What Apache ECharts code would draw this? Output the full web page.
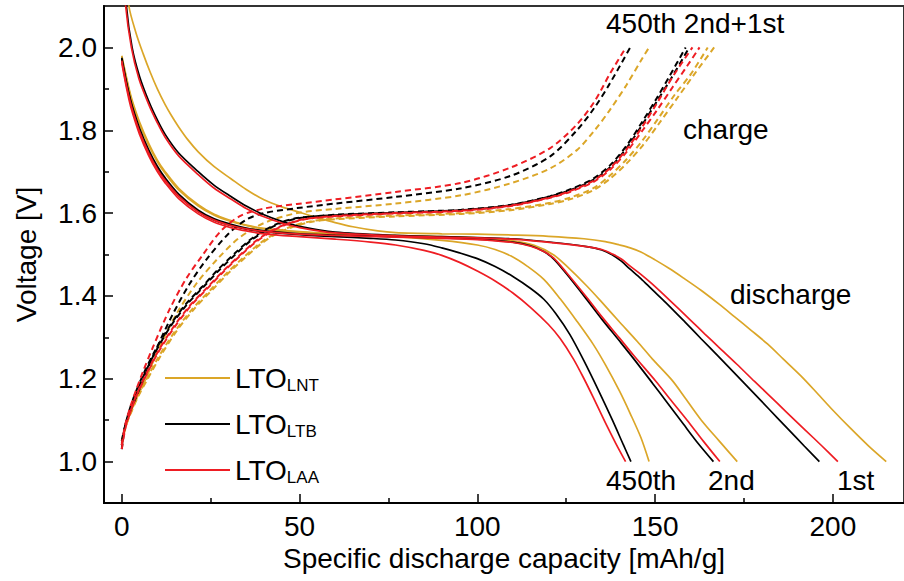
<!DOCTYPE html>
<html>
<head>
<meta charset="utf-8">
<script src="https://cdn.jsdelivr.net/npm/echarts@6/dist/echarts.min.js"></script>
<style>html,body{margin:0;padding:0;background:#fff;}#c{width:904px;height:581px;}</style>
</head>
<body>
<div id="c"></div>
<script>
// ---------- tick labels ----------
const xTickValues = [0, 50, 100, 150, 200];
const xMinorValues = [25, 75, 125, 175];
const yTickValues = [1.0, 1.2, 1.4, 1.6, 1.8, 2.0];
const yMinorValues = [1.1, 1.3, 1.5, 1.7, 1.9];
const legendNames = ['LNT', 'LTB', 'LAA'];

// ---------- discharge (solid) [capacity mAh/g, voltage V] ----------
const lntDis1 = [[1.2,2.2],[2,2.1],[4,2.035],[6,1.985],[8,1.94],[10,1.9],[12.2,1.862],[14,1.835],[16,1.808],[18.5,1.778],[21.5,1.748],[26,1.712],[30.7,1.683],[35,1.657],[40,1.632],[45,1.615],[50,1.602],[55,1.589],[60,1.577],[65,1.567],[72,1.557],[77,1.553],[90,1.55],[100,1.549],[110,1.547],[120,1.544],[130,1.538],[136,1.531],[140,1.523],[143,1.516],[146,1.506],[150,1.487],[154,1.466],[158,1.443],[163,1.413],[168,1.38],[172.3,1.35],[177,1.317],[181.6,1.284],[186,1.248],[191,1.207],[195.6,1.165],[200,1.124],[205,1.08],[210,1.038],[215,1.0]];
const ltbDis1 = [[0.8,2.2],[1.3,2.1],[2.9,2.0],[5,1.93],[7.6,1.87],[10,1.825],[12.2,1.79],[16,1.745],[21.5,1.7],[26,1.667],[30.7,1.64],[35,1.617],[40,1.596],[45,1.58],[50,1.568],[60,1.554],[77,1.546],[90,1.543],[100,1.541],[110,1.538],[121.5,1.529],[130.7,1.519],[135,1.511],[138,1.499],[140.5,1.484],[142.8,1.466],[146,1.442],[149.2,1.415],[153,1.384],[158.5,1.336],[163,1.296],[167.8,1.254],[174.3,1.196],[177,1.172],[182,1.127],[187,1.082],[192,1.037],[196.2,1.0]];
const laaDis1 = [[0.6,2.2],[1.1,2.1],[2.7,2.0],[4.8,1.925],[7.6,1.862],[10,1.818],[12.2,1.783],[16,1.738],[21.5,1.693],[26,1.66],[30.7,1.634],[35,1.611],[40,1.591],[45,1.576],[50,1.565],[60,1.552],[77,1.545],[90,1.542],[100,1.54],[110,1.537],[121.5,1.528],[130.7,1.519],[135,1.512],[138,1.501],[140.5,1.489],[142.8,1.473],[146,1.452],[149,1.43],[153.9,1.391],[160,1.341],[164,1.308],[167.8,1.277],[173,1.235],[177.9,1.194],[181.7,1.163],[187,1.119],[192,1.078],[197,1.037],[201.4,1.0]];
const lntDis2 = [[0,1.98],[1,1.94],[2,1.902],[3,1.87],[5,1.82],[7.6,1.768],[10,1.728],[12.2,1.7],[16,1.66],[21.5,1.62],[26,1.597],[30.7,1.582],[35,1.571],[40,1.563],[50,1.555],[60,1.55],[77,1.546],[90,1.543],[100,1.54],[110,1.533],[116,1.522],[121.5,1.499],[125,1.473],[130.8,1.424],[135,1.385],[140,1.337],[145,1.29],[149.2,1.248],[154.8,1.196],[158.5,1.153],[163,1.1],[168,1.05],[173.1,1.0]];
const ltbDis2 = [[0,1.975],[1,1.93],[2,1.89],[3,1.857],[5,1.805],[7.6,1.752],[10,1.713],[12.2,1.685],[16,1.646],[21.5,1.607],[26,1.586],[30.7,1.573],[35,1.564],[40,1.557],[50,1.55],[60,1.547],[77,1.543],[90,1.54],[100,1.537],[110,1.53],[115,1.521],[118.7,1.507],[121.5,1.489],[125,1.454],[130.8,1.391],[135,1.344],[140,1.291],[144,1.248],[149.2,1.19],[153,1.147],[158,1.09],[162,1.045],[166.4,1.0]];
const laaDis2 = [[0,1.968],[1,1.922],[2,1.882],[3,1.849],[5,1.797],[7.6,1.745],[10,1.706],[12.2,1.679],[16,1.641],[21.5,1.603],[26,1.583],[30.7,1.57],[35,1.562],[40,1.556],[50,1.549],[60,1.546],[77,1.542],[90,1.539],[100,1.536],[110,1.529],[115,1.52],[118.7,1.507],[121.5,1.491],[125,1.457],[130.8,1.396],[135,1.35],[140,1.298],[144,1.256],[150.2,1.194],[154,1.153],[159,1.1],[163.5,1.05],[168.2,1.0]];
const lntDis450 = [[0,1.978],[1,1.936],[2,1.898],[3,1.866],[5,1.815],[7.6,1.763],[10,1.724],[12.2,1.696],[16,1.656],[21.5,1.617],[26,1.595],[30.7,1.58],[35,1.57],[40,1.562],[50,1.554],[60,1.549],[70,1.546],[77,1.543],[90,1.534],[100,1.523],[105,1.512],[110,1.494],[114,1.472],[118.7,1.44],[123.3,1.393],[128,1.339],[132.6,1.283],[136,1.234],[140,1.17],[143,1.116],[146,1.058],[148.3,1.0]];
const ltbDis450 = [[0,1.972],[1,1.926],[2,1.886],[3,1.853],[5,1.8],[7.6,1.748],[10,1.709],[12.2,1.681],[16,1.642],[21.5,1.604],[26,1.583],[30.7,1.57],[35,1.561],[40,1.555],[50,1.548],[60,1.543],[70,1.539],[77,1.535],[85,1.526],[90,1.516],[95,1.504],[100,1.49],[105,1.471],[110,1.447],[115,1.418],[118.7,1.392],[122,1.358],[126,1.307],[130,1.243],[134.4,1.166],[138,1.1],[141,1.042],[143.2,1.0]];
const laaDis450 = [[0,1.962],[1,1.916],[2,1.875],[3,1.842],[5,1.79],[7.6,1.738],[10,1.7],[12.2,1.673],[16,1.635],[21.5,1.598],[26,1.578],[30.7,1.565],[35,1.557],[40,1.55],[50,1.543],[60,1.537],[70,1.53],[77,1.523],[85,1.51],[90,1.498],[95,1.481],[100,1.46],[105,1.436],[110,1.407],[115,1.372],[120,1.331],[123.3,1.297],[127,1.248],[130,1.2],[132.6,1.155],[136,1.094],[139,1.043],[141.7,1.0]];

// ---------- charge (dashed) ----------
const lntChg1 = [[0,1.045],[1.1,1.085],[2.8,1.122],[4.6,1.157],[7.3,1.2],[10.7,1.252],[15.4,1.315],[20.5,1.37],[25.5,1.415],[30,1.455],[35,1.495],[39.5,1.528],[43.5,1.55],[48,1.566],[53.5,1.579],[60,1.585],[77,1.592],[95.5,1.598],[109.4,1.607],[120.5,1.622],[126,1.633],[132.6,1.655],[137.2,1.682],[142,1.72],[146.5,1.763],[151,1.815],[156,1.875],[161,1.935],[166.6,2.0]];
const lntChg2 = [[0,1.04],[1,1.082],[2.6,1.12],[4.3,1.155],[7,1.2],[10.3,1.252],[15,1.315],[20,1.37],[25,1.415],[29.5,1.455],[34.5,1.495],[39,1.528],[43,1.55],[47.5,1.567],[53,1.58],[60,1.587],[77,1.594],[95.5,1.6],[109.4,1.61],[120.5,1.625],[126,1.637],[132.6,1.66],[137.2,1.69],[142,1.73],[146.5,1.776],[151,1.83],[155.7,1.888],[160,1.935],[164.8,2.0]];
const ltbChg1 = [[0,1.04],[0.9,1.085],[2.2,1.123],[3.8,1.16],[6.2,1.208],[9.3,1.262],[13.6,1.325],[18.4,1.38],[23,1.422],[27.5,1.463],[32.3,1.503],[36.5,1.535],[40.5,1.558],[44.5,1.575],[50,1.588],[60,1.596],[77,1.602],[95.5,1.608],[109.4,1.62],[120.5,1.641],[126,1.657],[132.6,1.683],[137.5,1.717],[142,1.763],[146.5,1.822],[150.5,1.878],[154,1.93],[158.6,2.0]];
const ltbChg2 = [[0,1.03],[0.8,1.08],[2,1.12],[3.5,1.158],[5.9,1.208],[9,1.262],[13.3,1.325],[18,1.38],[22.6,1.422],[27,1.463],[31.8,1.503],[36,1.535],[40,1.558],[44,1.575],[49.3,1.588],[60,1.595],[77,1.601],[95.5,1.607],[109.4,1.619],[120.5,1.64],[126,1.655],[132.6,1.68],[137.5,1.712],[142,1.757],[146.5,1.815],[150.5,1.87],[154.5,1.925],[159.6,2.0]];
const laaChg1 = [[0,1.04],[1,1.085],[2.5,1.122],[4.2,1.16],[6.8,1.207],[10,1.26],[14.6,1.322],[19.5,1.377],[24.3,1.42],[28.8,1.46],[33.7,1.5],[38,1.532],[42,1.555],[46.2,1.572],[51.5,1.585],[60,1.593],[77,1.6],[95.5,1.606],[109.4,1.618],[120.5,1.638],[126,1.653],[132.6,1.678],[137.5,1.71],[142,1.754],[146.5,1.81],[150.5,1.865],[155,1.93],[160.5,2.0]];
const laaChg2 = [[0,1.03],[1,1.08],[2.4,1.12],[4,1.158],[6.5,1.205],[9.8,1.26],[14.3,1.322],[19.2,1.377],[24,1.42],[28.5,1.46],[33.4,1.5],[37.6,1.532],[41.6,1.555],[45.8,1.572],[51,1.585],[60,1.592],[77,1.599],[95.5,1.605],[109.4,1.617],[120.5,1.637],[126,1.651],[132.6,1.675],[137.5,1.706],[142,1.748],[146.5,1.8],[150.5,1.848],[155,1.905],[159,1.955],[162.5,2.0]];
const lntChg450 = [[0,1.05],[1.2,1.09],[3,1.13],[5,1.168],[7.5,1.215],[10.5,1.275],[15.5,1.358],[21,1.43],[27,1.49],[33,1.54],[40,1.576],[49.3,1.6],[60,1.61],[77,1.623],[95.5,1.643],[109.4,1.672],[120.5,1.708],[128,1.752],[133,1.8],[137.2,1.848],[142,1.91],[146.5,1.975],[148.3,2.0]];
const ltbChg450 = [[0,1.05],[1,1.088],[2.5,1.125],[4.5,1.165],[6.5,1.208],[9.5,1.268],[14,1.35],[19,1.428],[24,1.49],[30,1.55],[35,1.584],[40,1.6],[49.3,1.612],[60,1.623],[77,1.639],[95.5,1.66],[109.4,1.69],[120.5,1.737],[128,1.8],[133,1.855],[137.2,1.912],[143,2.0]];
const laaChg450 = [[0,1.04],[1,1.09],[2.5,1.135],[4,1.172],[6,1.218],[8.7,1.275],[13.3,1.365],[18,1.44],[22.6,1.497],[28,1.558],[33.5,1.594],[40,1.611],[49.3,1.622],[60,1.633],[77,1.651],[95.5,1.673],[109.4,1.71],[120.5,1.757],[128,1.814],[133,1.87],[137.2,1.935],[141.8,2.0]];

// ---------- styling ----------
const GOLD = '#DBA628', BLACK = '#000000', RED = '#EE1D23';
const FONT = "'Liberation Sans', Arial, sans-serif";

const seriesDefs = [
  { name: 'LNT', data: lntDis1, color: GOLD, dashed: false },
  { name: 'LNT 2nd dis', data: lntDis2, color: GOLD, dashed: false },
  { name: 'LNT 450th dis', data: lntDis450, color: GOLD, dashed: false },
  { name: 'LNT 1st chg', data: lntChg1, color: GOLD, dashed: true },
  { name: 'LNT 2nd chg', data: lntChg2, color: GOLD, dashed: true },
  { name: 'LNT 450th chg', data: lntChg450, color: GOLD, dashed: true },
  { name: 'LTB', data: ltbDis1, color: BLACK, dashed: false },
  { name: 'LTB 2nd dis', data: ltbDis2, color: BLACK, dashed: false },
  { name: 'LTB 450th dis', data: ltbDis450, color: BLACK, dashed: false },
  { name: 'LTB 1st chg', data: ltbChg1, color: BLACK, dashed: true },
  { name: 'LTB 2nd chg', data: ltbChg2, color: BLACK, dashed: true },
  { name: 'LTB 450th chg', data: ltbChg450, color: BLACK, dashed: true },
  { name: 'LAA', data: laaDis1, color: RED, dashed: false },
  { name: 'LAA 2nd dis', data: laaDis2, color: RED, dashed: false },
  { name: 'LAA 450th dis', data: laaDis450, color: RED, dashed: false },
  { name: 'LAA 1st chg', data: laaChg1, color: RED, dashed: true },
  { name: 'LAA 2nd chg', data: laaChg2, color: RED, dashed: true },
  { name: 'LAA 450th chg', data: laaChg450, color: RED, dashed: true }
];

const series = seriesDefs.map(d => ({
  type: 'line',
  name: d.name,
  data: d.data,
  xAxisIndex: 0,
  yAxisIndex: 0,
  showSymbol: false,
  symbol: 'none',
  smooth: 0.3,
  clip: true,
  animation: false,
  color: d.color,
  lineStyle: { color: d.color, width: d.dashed ? 2 : 1.7, type: d.dashed ? [6, 4] : 'solid' },
  emphasis: { disabled: true }
}));

const chart = echarts.init(document.getElementById('c'), null, { renderer: 'svg' });
chart.setOption({
  animation: false,
  backgroundColor: '#ffffff',
  grid: { left: 104, top: 6, width: 810, height: 497, show: true, borderColor: '#333', borderWidth: 2, backgroundColor: 'transparent', containLabel: false },
  xAxis: [
    {
      type: 'value', min: -5, max: 220, position: 'bottom',
      name: 'Specific discharge capacity [mAh/g]', nameLocation: 'middle', nameGap: 37,
      nameTextStyle: { fontSize: 28, fontFamily: FONT, color: '#000' },
      axisLine: { show: true, onZero: false, lineStyle: { color: '#000', width: 2 } },
      axisTick: { show: true, inside: true, length: 9, customValues: xTickValues, lineStyle: { color: '#000', width: 1.5 } },
      axisLabel: { show: true, margin: 9, customValues: xTickValues, fontSize: 28, fontFamily: FONT, color: '#000', formatter: v => String(v) },
      splitLine: { show: false }
    },
    {
      type: 'value', min: -5, max: 220, position: 'bottom',
      axisLine: { show: false, onZero: false },
      axisTick: { show: true, inside: true, length: 5, customValues: xMinorValues, lineStyle: { color: '#000', width: 1.5 } },
      axisLabel: { show: false },
      splitLine: { show: false }
    }
  ],
  yAxis: [
    {
      type: 'value', min: 0.9, max: 2.1, position: 'left',
      name: 'Voltage [V]', nameLocation: 'middle', nameGap: 64,
      nameTextStyle: { fontSize: 28, fontFamily: FONT, color: '#000' },
      axisLine: { show: true, onZero: false, lineStyle: { color: '#000', width: 2 } },
      axisTick: { show: true, inside: true, length: 9, customValues: yTickValues, lineStyle: { color: '#000', width: 1.5 } },
      axisLabel: { show: true, margin: 7, customValues: yTickValues, fontSize: 28, fontFamily: FONT, color: '#000', formatter: v => v.toFixed(1) },
      splitLine: { show: false }
    },
    {
      type: 'value', min: 0.9, max: 2.1, position: 'left',
      axisLine: { show: false, onZero: false },
      axisTick: { show: true, inside: true, length: 5, customValues: yMinorValues, lineStyle: { color: '#000', width: 1.5 } },
      axisLabel: { show: false },
      splitLine: { show: false }
    }
  ],
  legend: {
    data: legendNames.map(n => ({ name: n, icon: 'rect' })),
    orient: 'vertical',
    left: 165,
    top: 340,
    padding: 0,
    itemGap: -8,
    itemWidth: 65,
    itemHeight: 2,
    selectedMode: false,
    formatter: name => '{a|LTO}{b|' + name + '}',
    textStyle: {
      fontFamily: FONT, color: '#000', fontSize: 28,
      rich: {
        a: { fontSize: 28, fontFamily: FONT, color: '#000', lineHeight: 32, verticalAlign: 'middle' },
        b: { fontSize: 17, fontFamily: FONT, color: '#000', lineHeight: 17, padding: [37, 0, 0, 0], verticalAlign: 'bottom' }
      }
    }
  },
  graphic: [
    { type: 'text', x: 606, y: 23, silent: true, style: { text: '450th 2nd+1st', font: '28px ' + FONT, fill: '#000', verticalAlign: 'middle', textVerticalAlign: 'middle' } },
    { type: 'text', x: 683, y: 129, silent: true, style: { text: 'charge', font: '28px ' + FONT, fill: '#000', verticalAlign: 'middle', textVerticalAlign: 'middle' } },
    { type: 'text', x: 730, y: 294, silent: true, style: { text: 'discharge', font: '28px ' + FONT, fill: '#000', verticalAlign: 'middle', textVerticalAlign: 'middle' } },
    { type: 'text', x: 606, y: 480, silent: true, style: { text: '450th', font: '28px ' + FONT, fill: '#000', verticalAlign: 'middle', textVerticalAlign: 'middle' } },
    { type: 'text', x: 708, y: 480, silent: true, style: { text: '2nd', font: '28px ' + FONT, fill: '#000', verticalAlign: 'middle', textVerticalAlign: 'middle' } },
    { type: 'text', x: 837, y: 480, silent: true, style: { text: '1st', font: '28px ' + FONT, fill: '#000', verticalAlign: 'middle', textVerticalAlign: 'middle' } }
  ],
  series: series
});
</script>
</body>
</html>
